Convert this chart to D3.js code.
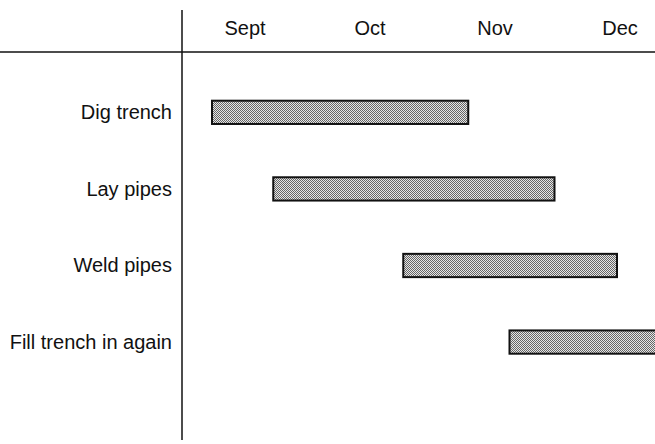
<!DOCTYPE html>
<html>
<head>
<meta charset="utf-8">
<script src="https://cdn.jsdelivr.net/npm/d3@7"></script>
<style>
  body { margin: 0; background: #fff; }
  svg { display: block; }
</style>
</head>
<body>
<div id="gantt"></div>
<script>
// Tasks and their start / end, in months counted from 1 Sept
const tasks = ["Dig trench", "Lay pipes", "Weld pipes", "Fill trench in again"];
const starts = [0.24, 0.73, 1.77, 2.62];
const ends = [2.29, 2.98, 3.48, 4.0];

// Month labels sit in the middle of each month
const months = ["Sept", "Oct", "Nov", "Dec"];
const monthMid = [0.5, 1.5, 2.5, 3.5];

let width = 655, height = 444;
let axisX = 182, headerY = 52;

let svg = d3.select("#gantt")
            .append("svg")
            .attr("width", width)
            .attr("height", height)
            .style("font-family", "'Liberation Sans', Arial, Helvetica, sans-serif");

// Grey dot pattern used for the bars
const defs = svg.append("defs");
const pat = defs.append("pattern")
                .attr("id", "dots")
                .attr("width", 2)
                .attr("height", 2)
                .attr("patternUnits", "userSpaceOnUse");
pat.append("rect").attr("width", 2).attr("height", 2).attr("fill", "#e6e6e6");
pat.append("rect").attr("x", 0).attr("y", 0).attr("width", 1).attr("height", 1).attr("fill", "#666");
pat.append("rect").attr("x", 1).attr("y", 1).attr("width", 1).attr("height", 1).attr("fill", "#666");

// Scales
let xscale = d3.scaleLinear()
               .domain([0, 4])
               .range([axisX, axisX + 500]);

let yscale = d3.scaleBand()
               .domain(tasks)
               .range([47.4, 407])
               .padding(0.696);

// Month labels along the top
let xaxis = svg.append("g")
               .attr("transform", `translate(0, 35)`)
               .call(d3.axisTop(xscale)
                       .tickValues(monthMid)
                       .tickSize(0)
                       .tickPadding(0)
                       .tickFormat((d, i) => months[i]));
xaxis.select(".domain").remove();
xaxis.selectAll("text")
     .style("font-size", "20px")
     .style("font-family", "'Liberation Sans', Arial, sans-serif")
     .attr("fill", "#111")
     .attr("dy", 0);

// Header line and vertical divider
svg.append("line")
   .attr("x1", 0).attr("x2", width)
   .attr("y1", headerY).attr("y2", headerY)
   .attr("stroke", "#111")
   .attr("stroke-width", 1.5);

svg.append("line")
   .attr("x1", axisX).attr("x2", axisX)
   .attr("y1", 10).attr("y2", 440)
   .attr("stroke", "#111")
   .attr("stroke-width", 1.5);

// Task labels
svg.selectAll(".task")
   .data(tasks)
   .enter()
   .append("text")
   .attr("class", "task")
   .attr("x", 172)
   .attr("y", d => yscale(d) + yscale.bandwidth() / 2 + 7)
   .attr("text-anchor", "end")
   .style("font-size", "20px")
   .attr("fill", "#111")
   .text(d => d);

// Bars
svg.selectAll(".bar")
   .data(tasks)
   .enter()
   .append("rect")
   .attr("class", "bar")
   .attr("x", (d, i) => xscale(starts[i]))
   .attr("y", d => yscale(d))
   .attr("width", (d, i) => xscale(ends[i]) - xscale(starts[i]))
   .attr("height", yscale.bandwidth())
   .attr("fill", "url(#dots)")
   .attr("stroke", "#111")
   .attr("stroke-width", 2);
</script>
</body>
</html>
